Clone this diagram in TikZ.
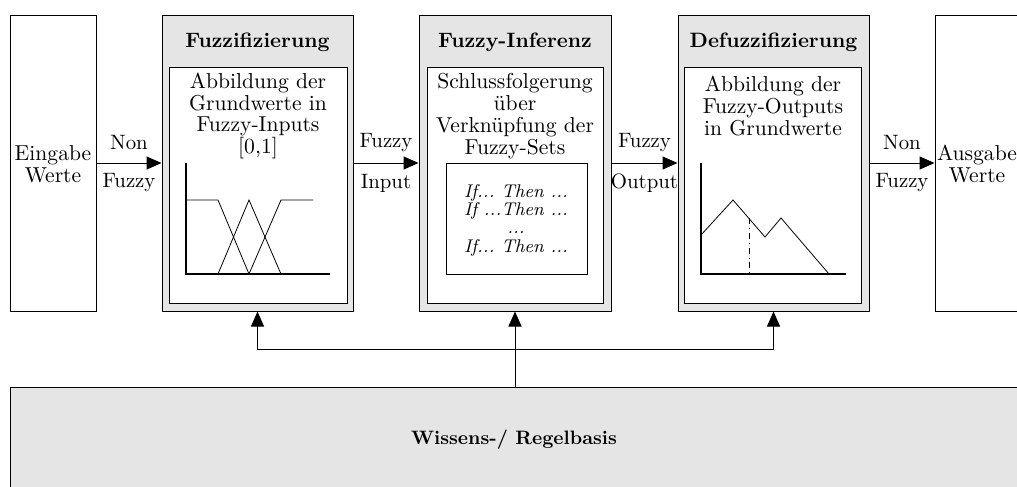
\documentclass[tikz,border=0pt]{standalone}
\usetikzlibrary{arrows.meta,fit}
\begin{document}
\frenchspacing
\begin{tikzpicture}[x=0.5pt,y=-0.5pt,
  every node/.style={font=\fontsize{10.8}{10.9}\selectfont},
  bx/.style={draw, inner sep=0pt, line width=0.5pt},
  outerbox/.style={bx, fill=black!10},
  innerbox/.style={bx, fill=white},
  ttl/.style={inner sep=0pt, font=\fontsize{10.4}{12}\selectfont\bfseries},
  txt/.style={align=center, inner sep=0pt},
  lbl/.style={inner sep=0pt, font=\fontsize{10.4}{12}\selectfont},
  rules/.style={align=center, inner sep=0pt, font=\fontsize{9.2}{9.2}\selectfont\itshape},
  arr/.style={-{Triangle[length=7.5pt,width=6.5pt]}, line width=0.5pt},
  axis/.style={line width=1.2pt},
  curve/.style={line width=0.4pt}
]
\useasboundingbox (0,0) rectangle (1017,487);

% input / output boxes
\node[bx, fit={(10,15)(96,311)}] (ein) {};
\node[txt] (eintxt) at (53,164) {Eingabe\\Werte};
\node[bx, fit={(935,15)(1021,311)}] (aus) {};
\node[txt] (austxt) at (977,164) {Ausgabe\\Werte};

% Fuzzifizierung
\node[outerbox, fit={(162,15)(353,311)}] (fuzz) {};
\node[innerbox, fit={(169,67)(347,303)}] (fuzzin) {};
\node[ttl] (fuzzt) at (257.5,42) {Fuzzifizierung};
\node[txt] (fuzztxt) at (258,116) {Abbildung der\\Grundwerte in\\Fuzzy-Inputs\\{[0,1]}};
\draw[curve] (186,200) -- (218,200) -- (249,274);
\draw[curve] (218,274) -- (249,200) -- (281,274);
\draw[curve] (249,274) -- (281,200) -- (313,200);
\draw[axis] (186,163) -- (186,274) -- (330,274);

% Fuzzy-Inferenz
\node[outerbox, fit={(419,15)(611,311)}] (inf) {};
\node[innerbox, fit={(427,67)(603,303)}] (infin) {};
\node[ttl] (inft) at (515,42) {Fuzzy-Inferenz};
\node[txt] (inftxt) at (515,116) {Schlussfolgerung\\über\\Verknüpfung der\\Fuzzy-Sets};
\node[innerbox, fit={(446,163)(587,274)}] (rulebox) {};
\node[rules] (ruletxt) at (516,220) {If... Then ...\\If ...Then ...\\...\\If... Then ...};

% Defuzzifizierung
\node[outerbox, fit={(678,15)(869,311)}] (defuzz) {};
\node[innerbox, fit={(684,67)(861,303)}] (defuzzin) {};
\node[ttl] (defuzzt) at (773.5,42) {Defuzzifizierung};
\node[txt] (defuzztxt) at (773,106) {Abbildung der\\Fuzzy-Outputs\\in Grundwerte};
\draw[curve] (701,235) -- (733,200) -- (765,237) -- (781,218) -- (829,274);
\draw[curve, dash dot] (749,218) -- (749,274);
\draw[axis] (701,163) -- (701,274) -- (846,274);

% knowledge base
\node[outerbox, fit={(10,387)(1022,520)}] (kb) {};
\node[inner sep=0pt, font=\fontsize{9.7}{11}\selectfont\bfseries] (kbtxt) at (514,440) {Wissens-/ Regelbasis};

% horizontal flow
\draw[arr] (ein.east) -- (fuzz.west)
  node[lbl, midway, yshift=10pt] {Non}
  node[lbl, midway, yshift=-10pt] {Fuzzy};
\draw[arr] (fuzz.east) -- (inf.west)
  node[lbl, midway, yshift=10pt] {Fuzzy}
  node[lbl, midway, yshift=-10pt] {Input};
\draw[arr] (inf.east) -- (defuzz.west)
  node[lbl, midway, yshift=10pt] {Fuzzy}
  node[lbl, midway, yshift=-10pt] {Output};
\draw[arr] (defuzz.east) -- (aus.west)
  node[lbl, midway, yshift=10pt] {Non}
  node[lbl, midway, yshift=-10pt] {Fuzzy};

% feedback from knowledge base
\coordinate (j) at (516,349);
\draw[arr] (kb.north -| inf.south) -- (inf.south);
\draw[arr] (j) -| (fuzz.south);
\draw[arr] (j) -| (defuzz.south);
\end{tikzpicture}
\end{document}
